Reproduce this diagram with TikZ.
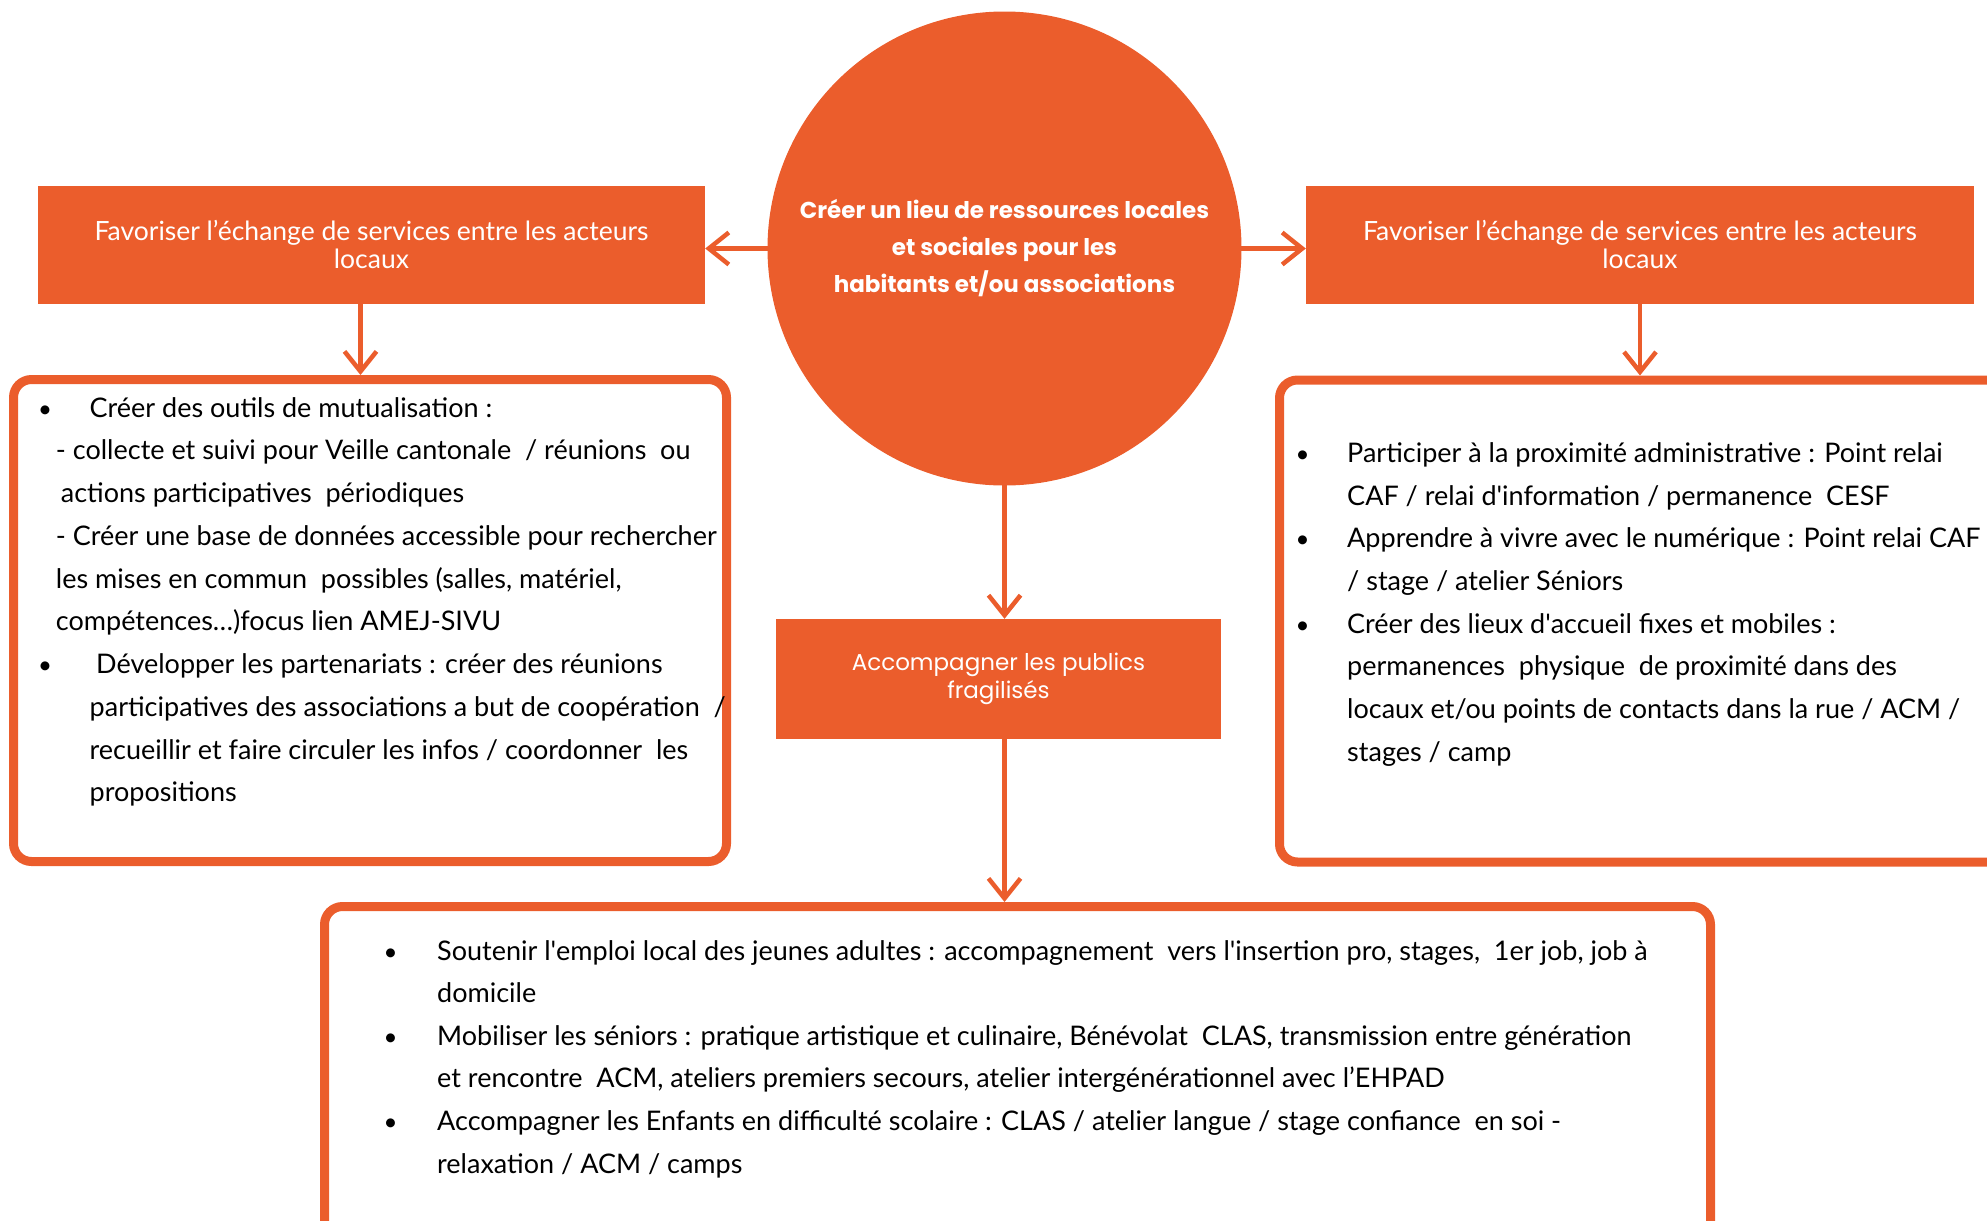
\documentclass[tikz,border=0pt]{standalone}
\usepackage{fontspec}
\setmainfont{Lato}
\newfontfamily\hubfont{Poppins}
\usetikzlibrary{arrows.meta}
\definecolor{brick}{RGB}{235,93,44}

\tikzset{
	head/.style={fill=brick,text=white,inner sep=0,align=center,font=\fontsize{26.5}{28}\selectfont},
	panel/.style={draw=brick,line width=9pt,rounded corners=18pt,inner sep=0},
	link/.style={brick,line width=4.5pt,line cap=round,-{Straight Barb[length=20pt,width=32pt]}},
	entry/.style={anchor=base west,inner sep=0,text=black,font=\fontsize{27}{30}\selectfont},
	dot/.style={anchor=base,inner sep=0,text=black,font=\fontsize{24}{30}\selectfont}
}

\begin{document}
\begin{tikzpicture}[x=1pt,y=-1pt]
	\useasboundingbox (0,0) rectangle (1987,1221);

	\node(hub) at (1004.5,248.5)[circle,fill=brick,minimum size=474pt,inner sep=0,text=white,align=center,font=\hubfont\bfseries\fontsize{23}{37}\selectfont]{Créer un lieu de ressources locales\\et sociales pour les\\habitants et/ou associations};
	\node(lbox) at (371.5,244.5)[head,minimum width=667pt,minimum height=118pt]{Favoriser l’échange de services entre les acteurs\\locaux};
	\node(rbox) at (1640,244.5)[head,minimum width=668pt,minimum height=118pt]{Favoriser l’échange de services entre les acteurs\\locaux};
	\node(mid) at (998.5,679)[head,minimum width=445pt,minimum height=120pt,font=\hubfont\fontsize{23}{28}\selectfont]{Accompagner les publics\\fragilisés};

	\node(lpanel) at (370,620.5)[panel,minimum width=713pt,minimum height=482pt]{};
	\node(rpanel) at (1650,621)[panel,minimum width=741pt,minimum height=482pt]{};
	\node(bpanel) at (1017.5,1083)[panel,minimum width=1386pt,minimum height=353pt]{};

	\draw[link](hub.west) -- (hub.west -| lbox.east);
	\draw[link](hub.east) -- (hub.east -| rbox.west);
	\draw[link](hub.south) -- (hub.south |- mid.north);
	\draw[link]([xshift=-11pt]lbox.south) -- ([xshift=-11pt]lbox.south |- lpanel.north);
	\draw[link](rbox.south) -- (rbox.south |- rpanel.north);
	\draw[link]([xshift=6pt]mid.south) -- ([xshift=6pt]mid.south |- bpanel.north);

	% left panel
	\foreach \dx/\txt [count=\i from 0] in {
		33.8/{Créer des outils de mutualisation :},
		0/{- collecte et suivi pour Veille cantonale \ / réunions \ ou},
		5/{actions participatives \ périodiques},
		0/{- Créer une base de données accessible pour rechercher},
		0/{les mises en commun \ possibles (salles, matériel,},
		0/{compétences…)focus lien AMEJ-SIVU},
		40.3/{Développer les partenariats : créer des réunions},
		33.8/{participatives des associations a but de coopération \ /},
		33.8/{recueillir et faire circuler les infos / coordonner \ les},
		33.8/{propositions}}
		\node(ltxt\i) at (55.7+\dx,417+42.76*\i)[entry]{\txt};
	\foreach \i in {0,6}
		\node(ldot\i) at (45,417+42.76*\i)[dot]{•};

	% right panel
	\foreach \txt [count=\i from 0] in {
		{Participer à la proximité administrative : Point relai},
		{CAF / relai d\textquotesingle information / permanence \ CESF},
		{Apprendre à vivre avec le numérique : Point relai CAF},
		{/ stage / atelier Séniors},
		{Créer des lieux d\textquotesingle accueil fixes et mobiles :},
		{permanences \ physique \ de proximité dans des},
		{locaux et/ou points de contacts dans la rue / ACM /},
		{stages / camp}}
		\node(rtxt\i) at (1347,462.4+42.7*\i)[entry]{\txt};
	\foreach \i in {0,2,4}
		\node(rdot\i) at (1302.6,462.4+42.7*\i)[dot]{•};

	% bottom panel
	\foreach \txt [count=\i from 0] in {
		{Soutenir l\textquotesingle emploi local des jeunes adultes : accompagnement \ vers l\textquotesingle insertion pro, stages, \ 1er job, job à},
		{domicile},
		{Mobiliser les séniors : pratique artistique et culinaire, Bénévolat \ CLAS, transmission entre génération},
		{et rencontre \ ACM, ateliers premiers secours, atelier intergénérationnel avec l’EHPAD},
		{Accompagner les Enfants en difficulté scolaire : CLAS / atelier langue / stage confiance \ en soi -},
		{relaxation / ACM / camps}}
		\node(btxt\i) at (437,960+42.6*\i)[entry]{\txt};
	\foreach \i in {0,2,4}
		\node(bdot\i) at (390.6,960+42.6*\i)[dot]{•};
\end{tikzpicture}
\end{document}
